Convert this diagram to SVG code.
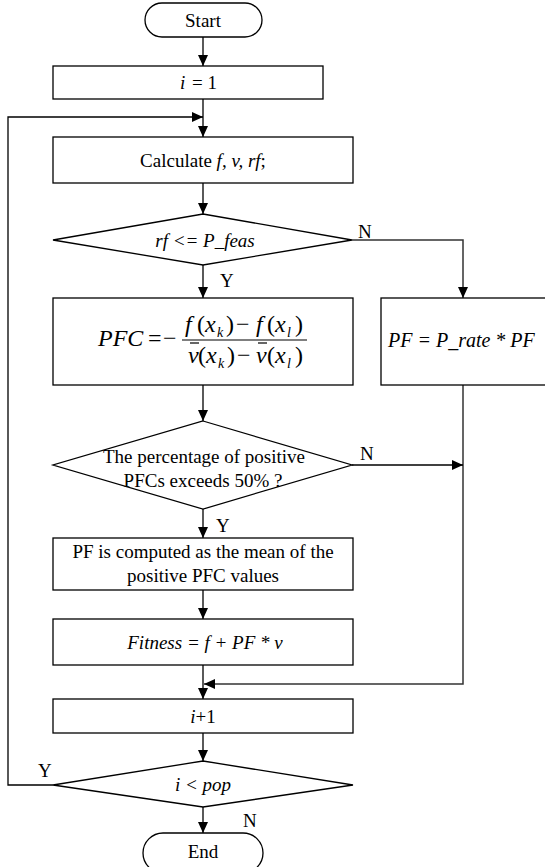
<svg xmlns="http://www.w3.org/2000/svg" width="545" height="867" viewBox="0 0 545 867">
<style>
.box{fill:#fff;stroke:#000;stroke-width:1.3}
.t{font-family:"Liberation Serif","Times New Roman",serif;font-size:19px;fill:#000;text-anchor:middle}
.s{text-anchor:start}
.i{font-style:italic}
.m{font-family:"Liberation Serif","Times New Roman",serif;font-size:24px;fill:#000}
.sub{font-size:14px;font-style:italic}
.conn{fill:none;stroke:#000;stroke-width:1.3}
.bar{stroke:#000;stroke-width:1.2}
</style>
<defs>
<marker id="arr" markerUnits="userSpaceOnUse" markerWidth="11" markerHeight="10" refX="11" refY="5" orient="auto">
<path d="M0,0 L11,5 L0,10 z" fill="#000"/>
</marker>
</defs>
<rect width="545" height="867" fill="#fff"/>

<g id="connectors">
<line class="conn" x1="203" y1="37" x2="203" y2="66" marker-end="url(#arr)"/>
<line class="conn" x1="203" y1="99" x2="203" y2="137" marker-end="url(#arr)"/>
<polyline class="conn" points="53,785 8,785 8,117 203,117" marker-end="url(#arr)"/>
<line class="conn" x1="203" y1="183" x2="203" y2="214" marker-end="url(#arr)"/>
<polyline class="conn" points="352,240 463,240 463,298" marker-end="url(#arr)" style="stroke:#333;stroke-width:1.5"/>
<line class="conn" x1="203" y1="265" x2="203" y2="298" marker-end="url(#arr)"/>
<line class="conn" x1="203" y1="385" x2="203" y2="421" marker-end="url(#arr)"/>
<polyline class="conn" points="463,385 463,684 204,684" marker-end="url(#arr)" style="stroke:#333;stroke-width:1.5"/>
<line class="conn" x1="352" y1="465" x2="463" y2="465" marker-end="url(#arr)"/>
<line class="conn" x1="203" y1="509" x2="203" y2="538" marker-end="url(#arr)"/>
<line class="conn" x1="203" y1="590" x2="203" y2="619" marker-end="url(#arr)"/>
<line class="conn" x1="203" y1="665" x2="203" y2="699" marker-end="url(#arr)"/>
<line class="conn" x1="203" y1="733" x2="203" y2="761" marker-end="url(#arr)"/>
<line class="conn" x1="203" y1="807" x2="203" y2="833" marker-end="url(#arr)"/>
<text class="t s" x="358" y="238">N</text>
<text class="t s" x="220" y="287">Y</text>
<text class="t s" x="360" y="460">N</text>
<text class="t s" x="216" y="532">Y</text>
<text class="t s" x="38" y="777">Y</text>
<text class="t s" x="243" y="827">N</text>
</g>

<g id="start">
<rect class="box" x="145" y="3" width="117" height="34" rx="17"/>
<text class="t" x="203" y="26.5">Start</text>
</g>

<g id="init">
<rect class="box" x="53" y="66" width="270" height="33"/>
<text class="t s" y="89"><tspan class="i" x="180">i</tspan><tspan x="192">= 1</tspan></text>
</g>

<g id="calc">
<rect class="box" x="53" y="137" width="300" height="46"/>
<text class="t" x="203" y="166.5">Calculate <tspan class="i">f, v, rf</tspan>;</text>
</g>

<g id="feas">
<polygon class="box" points="203,214 352,240 203,265 53,240"/>
<text class="t i" x="205" y="246.5">rf &lt;= P_feas</text>
</g>

<g id="pfc">
<rect class="box" x="53" y="298" width="300" height="87"/>
<text class="m i" x="98" y="346">PFC</text>
<text class="m" x="148" y="346">=</text>
<text class="m" x="163" y="346">−</text>
<line class="bar" x1="182" y1="340" x2="307" y2="340"/>
<text class="m" y="332"><tspan class="i" x="185">f</tspan><tspan x="197">(</tspan><tspan class="i" x="205">x</tspan><tspan class="sub" x="217" dy="5">k</tspan><tspan x="226" dy="-5">)</tspan><tspan x="236">−</tspan><tspan class="i" x="256">f</tspan><tspan x="267">(</tspan><tspan class="i" x="275">x</tspan><tspan class="sub" x="287" dy="5">l</tspan><tspan x="295" dy="-5">)</tspan></text>
<text class="m" y="363"><tspan class="i" x="188">v</tspan><tspan x="198">(</tspan><tspan class="i" x="206">x</tspan><tspan class="sub" x="218" dy="5">k</tspan><tspan x="227" dy="-5">)</tspan><tspan x="237">−</tspan><tspan class="i" x="256">v</tspan><tspan x="267">(</tspan><tspan class="i" x="275">x</tspan><tspan class="sub" x="287" dy="5">l</tspan><tspan x="295" dy="-5">)</tspan></text>
<line class="bar" x1="190" y1="343" x2="199" y2="343"/>
<line class="bar" x1="258" y1="343" x2="267" y2="343"/>
</g>

<g id="pfrate">
<rect class="box" x="381" y="298" width="170" height="87"/>
<text class="t s i" x="388" y="347" style="font-size:20px">PF = P_rate * PF</text>
</g>

<g id="percent">
<polygon class="box" points="203,421 352,465 203,509 53,465"/>
<text class="t" x="204" y="463">The percentage of positive</text>
<text class="t" x="203" y="487">PFCs exceeds 50% ?</text>
</g>

<g id="pfmean">
<rect class="box" x="53" y="538" width="300" height="52"/>
<text class="t" x="203" y="558">PF is computed as the mean of the</text>
<text class="t" x="203" y="582">positive PFC values</text>
</g>

<g id="fitness">
<rect class="box" x="53" y="619" width="300" height="46"/>
<text class="t i" x="205" y="648.5">Fitness = f + PF * v</text>
</g>

<g id="incr">
<rect class="box" x="53" y="699" width="300" height="34"/>
<text class="t" x="203" y="723"><tspan class="i">i</tspan>+1</text>
</g>

<g id="loop">
<polygon class="box" points="203,761 353,785 203,807 53,785"/>
<text class="t i" x="203" y="791">i &lt; pop</text>
</g>

<g id="end">
<rect class="box" x="143" y="833" width="120" height="40" rx="20"/>
<text class="t" x="203" y="858">End</text>
</g>
</svg>
